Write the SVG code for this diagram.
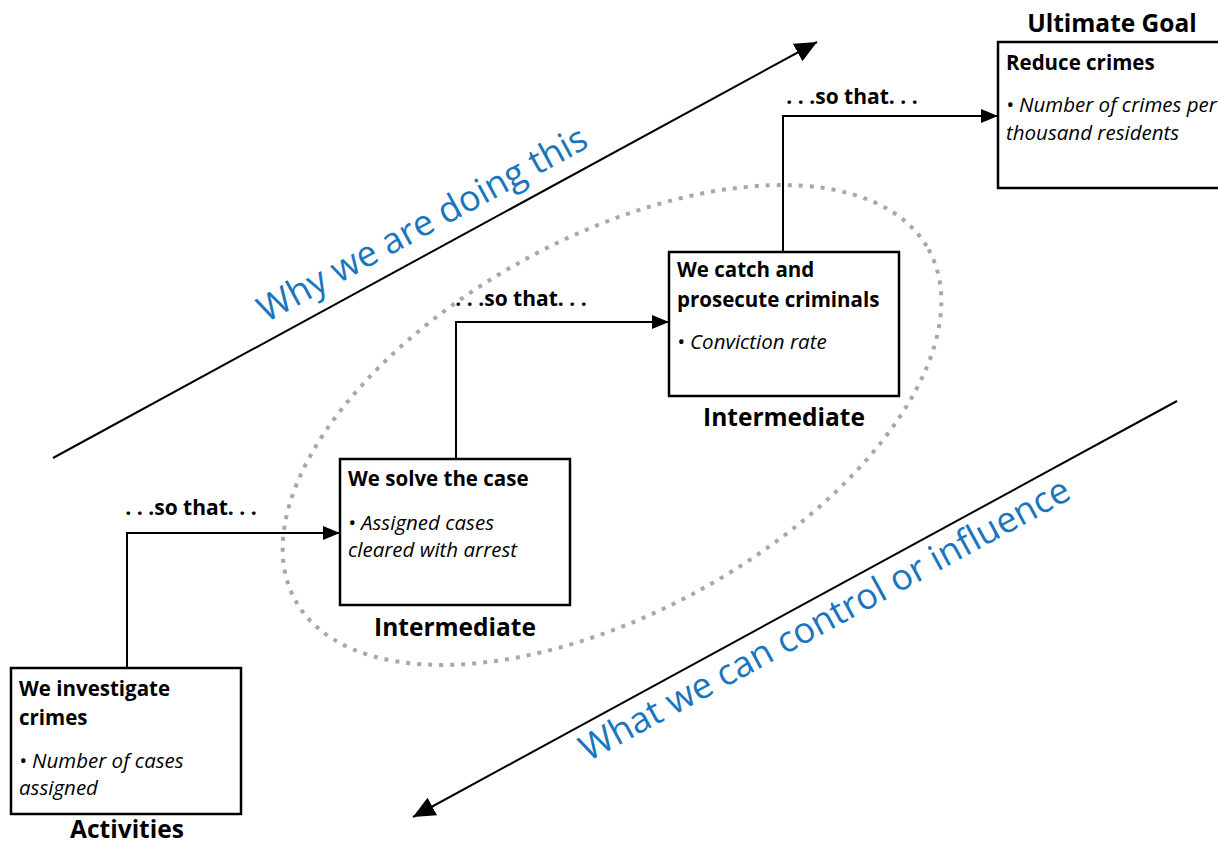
<svg xmlns="http://www.w3.org/2000/svg" width="1218" height="846" viewBox="0 0 1218 846">
<style>
.box{fill:#fff;stroke:#000;stroke-width:2.5}
.t{font-family:"Open Sans","Noto Sans",sans-serif;font-weight:bold;font-size:20.5px;fill:#000}
.i{font-family:"Open Sans","Noto Sans",sans-serif;font-style:italic;font-size:20.5px;fill:#000}
.lab{font-family:"Open Sans","Noto Sans",sans-serif;font-weight:bold;font-size:24.5px;fill:#000;text-anchor:middle}
.st{font-family:"Open Sans","Noto Sans",sans-serif;font-weight:bold;font-size:21px;fill:#000;text-anchor:middle}
.blue{font-family:"Open Sans","Noto Sans",sans-serif;font-size:36px;fill:#1a75bc}
.con{fill:none;stroke:#000;stroke-width:2}
</style>
<defs>
<marker id="ah" markerUnits="userSpaceOnUse" markerWidth="18" markerHeight="16" refX="17" refY="7" orient="auto">
<path d="M0,0 L17,7 L0,14 z" fill="#000"/>
</marker>
<marker id="bh" markerUnits="userSpaceOnUse" markerWidth="24" markerHeight="22" refX="22" refY="10" orient="auto">
<path d="M0,0 L22,10 L0,20 z" fill="#000"/>
</marker>
</defs>
<rect width="1218" height="846" fill="#fff"/>
<ellipse cx="612" cy="425" rx="362" ry="187" transform="rotate(-29 612 425)" fill="none" stroke="#a8a8a8" stroke-width="4" stroke-dasharray="4 7"/>
<g id="connectors">
<line class="con" x1="53" y1="458" x2="817" y2="42" marker-end="url(#bh)"/>
<line class="con" x1="1177" y1="401" x2="413" y2="817" marker-end="url(#bh)"/>
<path class="con" d="M127,668 V533 H340" marker-end="url(#ah)"/>
<path class="con" d="M456,459 V322 H669" marker-end="url(#ah)"/>
<path class="con" d="M783,252 V116 H998" marker-end="url(#ah)"/>
<text class="st" x="191" y="515">. . .so that. . .</text>
<text class="st" x="521" y="306">. . .so that. . .</text>
<text class="st" x="852" y="104">. . .so that. . .</text>
</g>
<text class="blue" x="266" y="323" transform="rotate(-28.57 266 323)">Why we are doing this</text>
<text class="blue" x="588" y="762" font-size="35.2" transform="rotate(-28.57 588 762)">What we can control or influence</text>
<g id="goal">
<rect class="box" x="998" y="42" width="240" height="146"/>
<text class="lab" x="1112" y="32" font-size="26">Ultimate Goal</text>
<text class="t" x="1006" y="70">Reduce crimes</text>
<text class="i" x="1006" y="112">• Number of crimes per</text>
<text class="i" x="1006" y="140">thousand residents</text>
</g>
<g id="catch">
<rect class="box" x="669" y="252" width="230" height="144"/>
<text class="t" x="677" y="277">We catch and</text>
<text class="t" x="677" y="307">prosecute criminals</text>
<text class="i" x="677" y="349">• Conviction rate</text>
<text class="lab" x="784" y="426">Intermediate</text>
</g>
<g id="solve">
<rect class="box" x="340" y="459" width="230" height="146"/>
<text class="t" x="348" y="486">We solve the case</text>
<text class="i" x="348" y="530">• Assigned cases</text>
<text class="i" x="348" y="557">cleared with arrest</text>
<text class="lab" x="455" y="636">Intermediate</text>
</g>
<g id="investigate">
<rect class="box" x="11" y="668" width="230" height="146"/>
<text class="t" x="19" y="696">We investigate</text>
<text class="t" x="19" y="725">crimes</text>
<text class="i" x="19" y="768">• Number of cases</text>
<text class="i" x="19" y="795">assigned</text>
<text class="lab" x="127" y="838" font-size="24">Activities</text>
</g>
</svg>
